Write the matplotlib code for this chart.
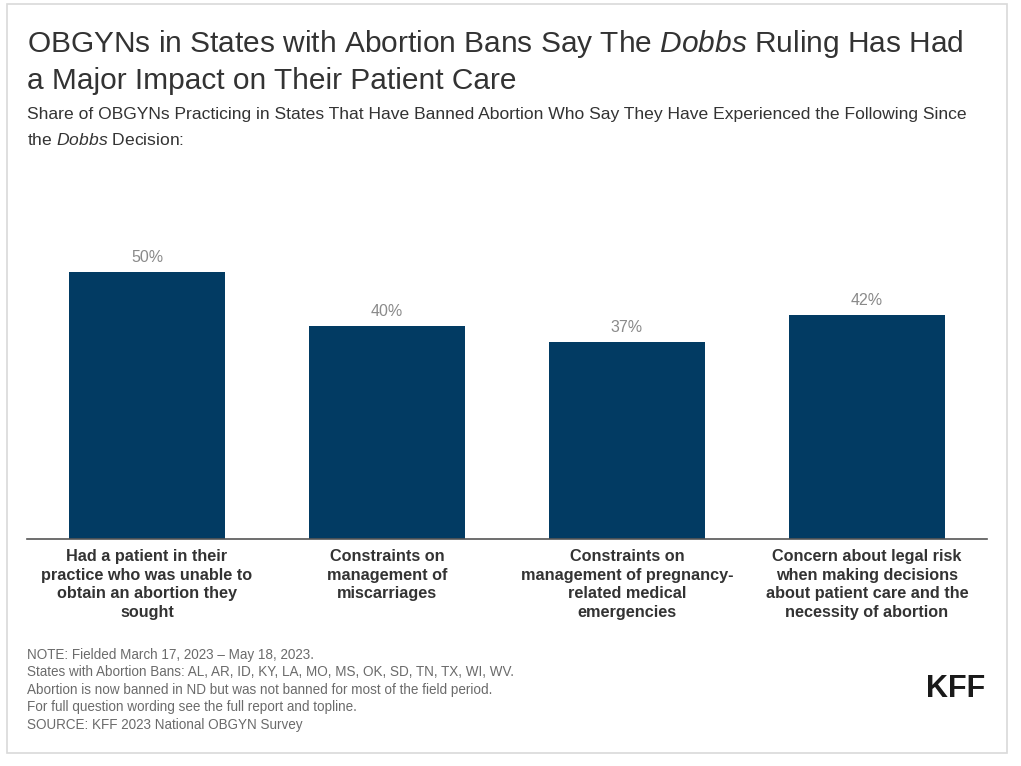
import matplotlib

matplotlib.use("Agg")
import matplotlib.pyplot as plt
from matplotlib.patches import Rectangle

plt.rcParams["font.family"] = ["Liberation Sans", "DejaVu Sans"]
plt.rcParams["mathtext.fontset"] = "custom"
plt.rcParams["mathtext.rm"] = "Liberation Sans"
plt.rcParams["mathtext.it"] = "Liberation Sans:italic"

categories = [
    "Had a patient in their\npractice who was unable to\nobtain an abortion they\nsought",
    "Constraints on\nmanagement of\nmiscarriages",
    "Constraints on\nmanagement of pregnancy-\nrelated medical\nemergencies",
    "Concern about legal risk\nwhen making decisions\nabout patient care and the\nnecessity of abortion",
]
values = [50, 40, 37, 42]

title = ("OBGYNs in States with Abortion Bans Say The $\\mathit{Dobbs}$ Ruling Has Had\n"
         "a Major Impact on Their Patient Care")
subtitle = ("Share of OBGYNs Practicing in States That Have Banned Abortion Who Say They "
            "Have Experienced the Following Since\nthe $\\mathit{Dobbs}$ Decision:")
notes = [
    "NOTE: Fielded March 17, 2023 \u2013 May 18, 2023.",
    "States with Abortion Bans: AL, AR, ID, KY, LA, MO, MS, OK, SD, TN, TX, WI, WV.",
    "Abortion is now banned in ND but was not banned for most of the field period.",
    "For full question wording see the full report and topline.",
    "SOURCE: KFF 2023 National OBGYN Survey",
]

W, H = 1021, 766
fig = plt.figure(figsize=(W / 100, H / 100), dpi=100)
fig.patch.set_facecolor("white")

# light frame around the whole graphic
fig.patches.append(Rectangle((7 / W, 1 - 753 / H), 1000 / W, 749 / H,
                             transform=fig.transFigure, fill=False,
                             edgecolor="#d9d9d9", linewidth=1.2))

ax = fig.add_axes([27 / W, 1 - 539 / H, 960 / W, 320 / H])
bars = ax.bar(range(len(values)), values, width=0.654, color="#023b63")
ax.set_xlim(-0.5, len(values) - 0.5)
ax.set_ylim(0, 60)
ax.bar_label(bars, labels=[f"{v}%" for v in values], padding=5,
             fontsize=11.5, color="#8a8a8a")

for side in ["top", "right", "left"]:
    ax.spines[side].set_visible(False)
ax.spines["bottom"].set_color("#555555")
ax.spines["bottom"].set_linewidth(1.2)
ax.set_yticks([])
ax.set_xticks(range(len(categories)))
ax.set_xticklabels(categories, fontsize=11.7, fontweight="bold", color="#333333",
                   linespacing=1.32)
ax.tick_params(axis="x", length=0, pad=7)

fig.text(27 / W, 1 - 28 / H, title, fontsize=21.5, color="#333333",
         va="top", ha="left", linespacing=1.3)
fig.text(27 / W, 1 - 107 / H, subtitle, fontsize=12.57, color="#333333",
         va="top", ha="left", linespacing=1.8)

for i, line in enumerate(notes):
    fig.text(27 / W, 1 - (655 + i * 17.5) / H, line, fontsize=9.74,
             color="#6b6b6b", va="center", ha="left")

fig.text(985 / W, 1 - 689 / H, "KFF", fontsize=22, fontweight="bold",
         color="#1a1a1a", va="center", ha="right")

fig.savefig("out.png", dpi=100)
